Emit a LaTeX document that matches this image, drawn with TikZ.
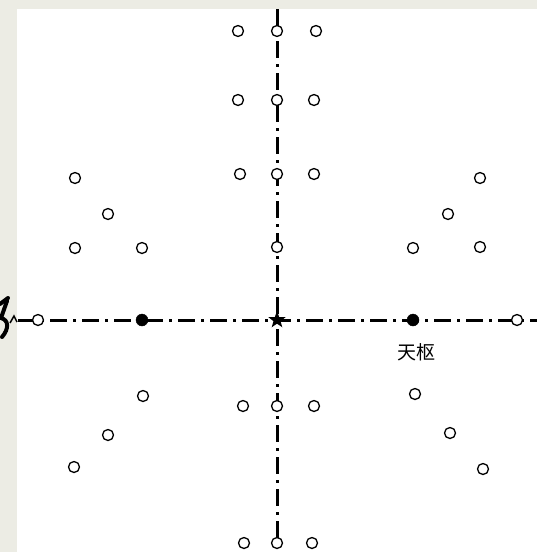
\documentclass[tikz,border=0pt]{standalone}
\usepackage{fontspec}
\newfontfamily\cjk{Noto Sans CJK SC}
\definecolor{marble}{HTML}{ECECE4}
\tikzset{
  opendot/.style={circle,draw=black,fill=white,line width=1.3pt,minimum size=11pt,inner sep=0pt},
  fulldot/.style={circle,draw=black,fill=black,minimum size=12pt,inner sep=0pt},
  axis/.style={line width=3pt,dash pattern=on 17pt off 6pt on 3pt off 6pt},
  label/.style={font=\cjk\fontsize{19}{19}\selectfont,inner sep=0pt}
}
\begin{document}
\begin{tikzpicture}[x=1pt,y=-1pt]
\useasboundingbox (0,0) rectangle (537,552);
\fill[marble] (0,0) rectangle (537,552);
\fill[white] (17,9) rectangle (537,552);
% fragment of a large glyph at the left edge
\draw[line width=4pt,line cap=round] (0,304) -- (8,298);
\draw[line width=4pt,line cap=round] (7,301) .. controls (4,310) .. (1,318) .. controls (9,320) and (9,329) .. (2,337);
\draw[line width=1.5pt] (10,323) -- (14,316) -- (17,322);
% axes ends
\coordinate (top) at (277,9);
\coordinate (bottom) at (277,552);
\coordinate (left) at (18,320);
\coordinate (right) at (537,320);
\draw[axis] (top) -- (bottom);
\draw[axis] (left) -- (right);
% center star
\coordinate (c) at (277,320);
\fill[shift={(c)}] (-90:9) -- (-54:3.7) -- (-18:9) -- (18:3.7) -- (54:9) -- (90:3.7)
   -- (126:9) -- (162:3.7) -- (198:9) -- (234:3.7) -- cycle;
% horizontal axis points
\node[opendot] (h1) at (38,320) {};
\node[fulldot] (h2) at (142,320) {};
\node[fulldot] (h3) at (413,320) {};
\node[opendot] (h4) at (517,320) {};
\node[label] (tianshu) at (416,352) {天枢};
% vertical column
\foreach \n/\x/\y in {t1/238/31, t2/277/31, t3/316/31,
                      u1/238/100, u2/277/100, u3/314/100,
                      v1/240/174, v2/277/174, v3/314/174,
                      w2/277/247,
                      d1/243/406, d2/277/406, d3/314/406,
                      b1/244/543, b2/277/543, b3/312/543}
  \node[opendot] (\n) at (\x,\y) {};
% side clusters
\foreach \n/\x/\y in {ul1/75/178, ul2/108/214, ul3/75/248, ul4/142/248,
                      ur1/480/178, ur2/448/214, ur3/413/248, ur4/480/247,
                      ll1/143/396, ll2/108/435, ll3/74/467,
                      lr1/415/394, lr2/450/433, lr3/483/469}
  \node[opendot] (\n) at (\x,\y) {};
\end{tikzpicture}
\end{document}
